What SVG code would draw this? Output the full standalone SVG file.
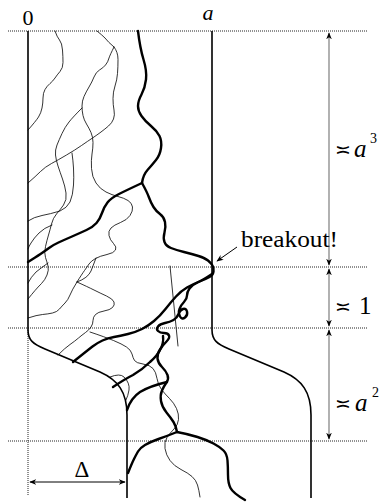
<svg xmlns="http://www.w3.org/2000/svg" width="386" height="502" viewBox="0 0 386 502">
<style>
.dot{stroke:#222;stroke-width:1;stroke-dasharray:1 1;fill:none}
.wall{stroke:#000;stroke-width:1.6;fill:none}
.thk{stroke:#000;stroke-width:2.4;fill:none;stroke-linecap:round;stroke-linejoin:round}
.thn{stroke:#000;stroke-width:0.8;fill:none;stroke-linecap:round}
.meas{stroke:#888;stroke-width:1.3;fill:none}
.txt{font-family:"Liberation Serif","DejaVu Serif",serif;fill:#000}
</style>
<defs>
<marker id="ah" viewBox="0 0 10 10" refX="9" refY="5" markerWidth="7" markerHeight="7" orient="auto-start-reverse" markerUnits="userSpaceOnUse">
<path d="M0,1 L10,5 L0,9 L3,5 Z" fill="#000"/>
</marker>
</defs>
<g id="guides">
<line class="dot" x1="8" y1="31" x2="368" y2="31"/>
<line class="dot" x1="8" y1="267" x2="368" y2="267"/>
<line class="dot" x1="8" y1="328" x2="368" y2="328"/>
<line class="dot" x1="8" y1="441" x2="368" y2="441"/>
<line class="dot" x1="28" y1="330" x2="28" y2="496"/>
</g>
<g id="walls">
<path class="wall" d="M28,31 V330 C28,340 33,344 45,349 L100,372 C118,380 127,392 127,415 V498"/>
<path class="wall" d="M212,31 V330 C212,340 217,344 229,349 L284,372 C302,380 311,392 311,415 V498"/>
</g>
<g id="thin">
<path class="thn" d="M55,31 Q57,37 59.5,40 Q62,43 62.5,50 Q63,57 63,62.5 Q63,68 60,71.5 Q57,75 55,78 Q53,81 50,83.5 Q47,86 45,89.5 Q43,93 43,98 Q43,103 42,108 Q41,113 38.5,117 Q36,121 28,130"/>
<path class="thn" d="M97,31 Q102,35 105,38 Q108,42 114,47"/>
<path class="thn" d="M114,47 Q110,55 109,58 Q108,62 105.5,65 Q103,68 99.5,70 Q96,72 94,77 Q92,82 89,87 Q86,92 84,96.5 Q82,101 82,106 Q82,111 83,115.5 Q84,120 86.5,124 Q89,128 91,132.5 Q93,137 93,142.5 Q93,148 92,154 Q91,160 91.5,168.5 Q92,177 96,183 Q100,189 106,192 Q112,195 118,196.5 Q124,198 128,200.5 Q132,203 132.5,207 Q133,211 130,215.5 Q127,220 120.5,222.5 Q114,225 111,228 Q108,231 109,235.5 Q110,240 113.5,243.5 Q117,247 115.5,250 Q114,253 107,254.5 Q100,256 95.5,258.5 Q91,261 89,264 Q87,267 84.5,270.5 Q82,274 77,282"/>
<path class="thn" d="M96,258 Q93,266 91,271 Q88,278 77,282"/>
<path class="thn" d="M114,47 Q118,52 118,59.5 Q118,67 117.5,73.5 Q117,80 115,86 Q113,92 113,98.5 Q113,105 114,110 Q115,115 113.5,119 Q112,123 108.5,126 Q105,129 101,132 Q97,135 92.5,138 Q88,141 81.5,145.5 Q75,150 66.5,155 Q58,160 51.5,163.5 Q45,167 40.5,171.5 Q36,176 28,183"/>
<path class="thn" d="M82,108 Q73,117 69,122 Q65,127 62,133.5 Q59,140 57,145 Q55,150 55.5,155 Q56,160 58,166 Q60,172 62.5,179 Q65,186 66,193 Q67,200 63.5,205 Q60,210 56.5,214 Q53,218 51.5,224 Q50,230 48.5,235 Q47,240 45.5,246.5 Q44,253 45.5,257.5 Q47,262 48,266 Q49,270 47,275 Q45,280 41.5,283.5 Q38,287 35,290.5 Q32,294 28,299"/>
<path class="thn" d="M72,153 Q73,160 73.5,168 Q74,178 73.5,185 Q73,195 70,202 Q67,208 60,211 Q50,214 42,215.5 Q34,217 28,221"/>
<path class="thn" d="M52,225 Q44,228 39,233 Q34,238 31,243 Q29,246 28,249"/>
<path class="thn" d="M48,263 Q41,268 36,272 Q31,277 28,283"/>
<path class="thn" d="M77,282 Q88,287 94,290 Q100,293 106.5,296 Q113,299 114,302 Q115,305 112.5,307.5 Q110,310 104,311 Q98,312 95.5,314.5 Q93,317 93,320.5 Q93,324 91,327 Q89,330 85.5,332.5 Q82,335 78.5,338 Q75,341 70,344.5 Q65,348 58,355"/>
<path class="thn" d="M77,282 Q72,290 70,295 Q68,300 65,303 Q62,306 59.5,309 Q57,312 52.5,313 Q48,314 42.5,314.5 Q37,315 28,318"/>
<path class="thn" d="M90,332 Q105,337 113.5,340.5 Q122,344 126.5,347 Q131,350 132,354 Q133,358 134.5,360.5 Q136,363 143,364 Q150,365 153,368.5 Q156,372 157,378.5 Q158,385 161.5,389.5 Q165,394 169.5,398.5 Q174,403 176.5,408.5 Q179,414 178.5,419.5 Q178,425 174,429 Q170,433 167,437.5 Q164,442 165,448.5 Q166,455 170,460.5 Q174,466 181,469.5 Q188,473 192,476.5 Q196,480 197.5,485 Q199,490 200,497"/>
<path class="thn" d="M110,377 Q120,373 124,377 Q130,383 129,390 Q128,396 126,400"/>
<path class="thn" d="M170,266 L178,346"/>
</g>
<g id="thick">
<path class="thk" d="M138,31 Q140,48 143.5,59.5 Q147,71 146,79.5 Q145,88 141.5,94.5 Q138,101 138,106 Q138,111 141.5,116 Q145,121 151,126 Q157,131 159.5,136 Q162,141 161,148 Q160,155 156,160 Q152,165 147.5,170 Q143,175 142,183"/>
<path class="thk" d="M142,183 Q147,192 149,197.5 Q151,203 153.5,207 Q156,211 160,214 Q164,217 165,222 Q166,227 164.5,232.5 Q163,238 164.5,242 Q166,246 171,248 Q176,250 184,252 Q192,254 198.5,256 Q205,258 208,260.5 Q211,263 212.5,265.5 Q214,268 213.5,271.5 Q213,275 209.5,277 Q206,279 199.5,281.5 Q193,284 187,287.5 Q181,291 176,296.5 Q171,302 165.5,309 Q160,316 154,321 Q148,326 142,329 Q136,332 128,334 Q120,336 114,337 Q108,338 102.5,340.5 Q97,343 92.5,346.5 Q88,350 73,362"/>
<path class="thk" d="M142,183 Q127,190 119,194 Q111,198 107.5,202.5 Q104,207 102,213 Q100,219 96.5,223 Q93,227 86.5,230 Q80,233 72,236.5 Q64,240 58.5,242.5 Q53,245 49,248 Q45,251 40.5,254 Q36,257 28,262"/>
<path class="thk" d="M212,274 Q203,280 197.5,282.5 Q192,285 189.5,288.5 Q187,292 187,295.5 Q187,299 184,302 Q181,305 179.5,309 Q178,313 180,316.5 Q182,320 185,317.5 Q188,315 187,311.5 Q186,308 183,309 Q180,310 178.5,314 Q177,318 173.5,320 Q170,322 165,323 Q160,324 158,326.5 Q156,329 158,331 Q160,333 164,333 Q168,333 169,335.5 Q170,338 166.5,341.5 Q163,345 160,349.5 Q157,354 157.5,358.5 Q158,363 162,367 Q166,371 167.5,375 Q169,379 166.5,382.5 Q164,386 162,390.5 Q160,395 161,401 Q162,407 166.5,412.5 Q171,418 173.5,422 Q176,426 177,432"/>
<path class="thk" d="M177,432 Q188,434 197.5,437 Q207,440 213.5,443.5 Q220,447 223.5,450.5 Q227,454 227.5,460.5 Q228,467 228,475 Q228,483 230.5,488 Q233,493 245,500"/>
<path class="thk" d="M177,432 Q167,436 158.5,439 Q150,442 145,445 Q140,448 138,451.5 Q136,455 134,459 Q132,463 128,473"/>
<path class="thk" d="M167,382 Q150,386 140,392 Q131,398 127,410"/>
<path class="thk" d="M113,387 Q125,379 133,375 Q143,369 150,362 Q157,356 160,350 Q164,343 163,336"/>
</g>
<g id="measures">
<line class="meas" x1="329" y1="33" x2="329" y2="265" marker-start="url(#ah)" marker-end="url(#ah)"/>
<line class="meas" x1="329" y1="269" x2="329" y2="326" marker-start="url(#ah)" marker-end="url(#ah)"/>
<line class="meas" x1="329" y1="330" x2="329" y2="439" marker-start="url(#ah)" marker-end="url(#ah)"/>
<line x1="30" y1="482" x2="125" y2="482" stroke="#000" stroke-width="1" marker-start="url(#ah)" marker-end="url(#ah)"/>
<line x1="237" y1="247" x2="217" y2="261" stroke="#000" stroke-width="1" marker-end="url(#ah)"/>
</g>
<g id="labels" class="txt">
<text x="28" y="25" font-size="22" text-anchor="middle">0</text>
<text x="208" y="20" font-size="22" font-style="italic" text-anchor="middle">a</text>
<text x="241" y="247" font-size="23" textLength="97" lengthAdjust="spacingAndGlyphs">breakout!</text>
<text x="82" y="477" font-size="23" text-anchor="middle">Δ</text>
<text x="335" y="156" font-size="19">≍</text>
<text x="354" y="157" font-size="25" font-style="italic">a</text>
<text x="370" y="143" font-size="14">3</text>
<text x="335" y="313" font-size="19">≍</text>
<text x="359" y="314" font-size="25">1</text>
<text x="335" y="410" font-size="19">≍</text>
<text x="355" y="411" font-size="25" font-style="italic">a</text>
<text x="372" y="397" font-size="14">2</text>
</g>
</svg>
